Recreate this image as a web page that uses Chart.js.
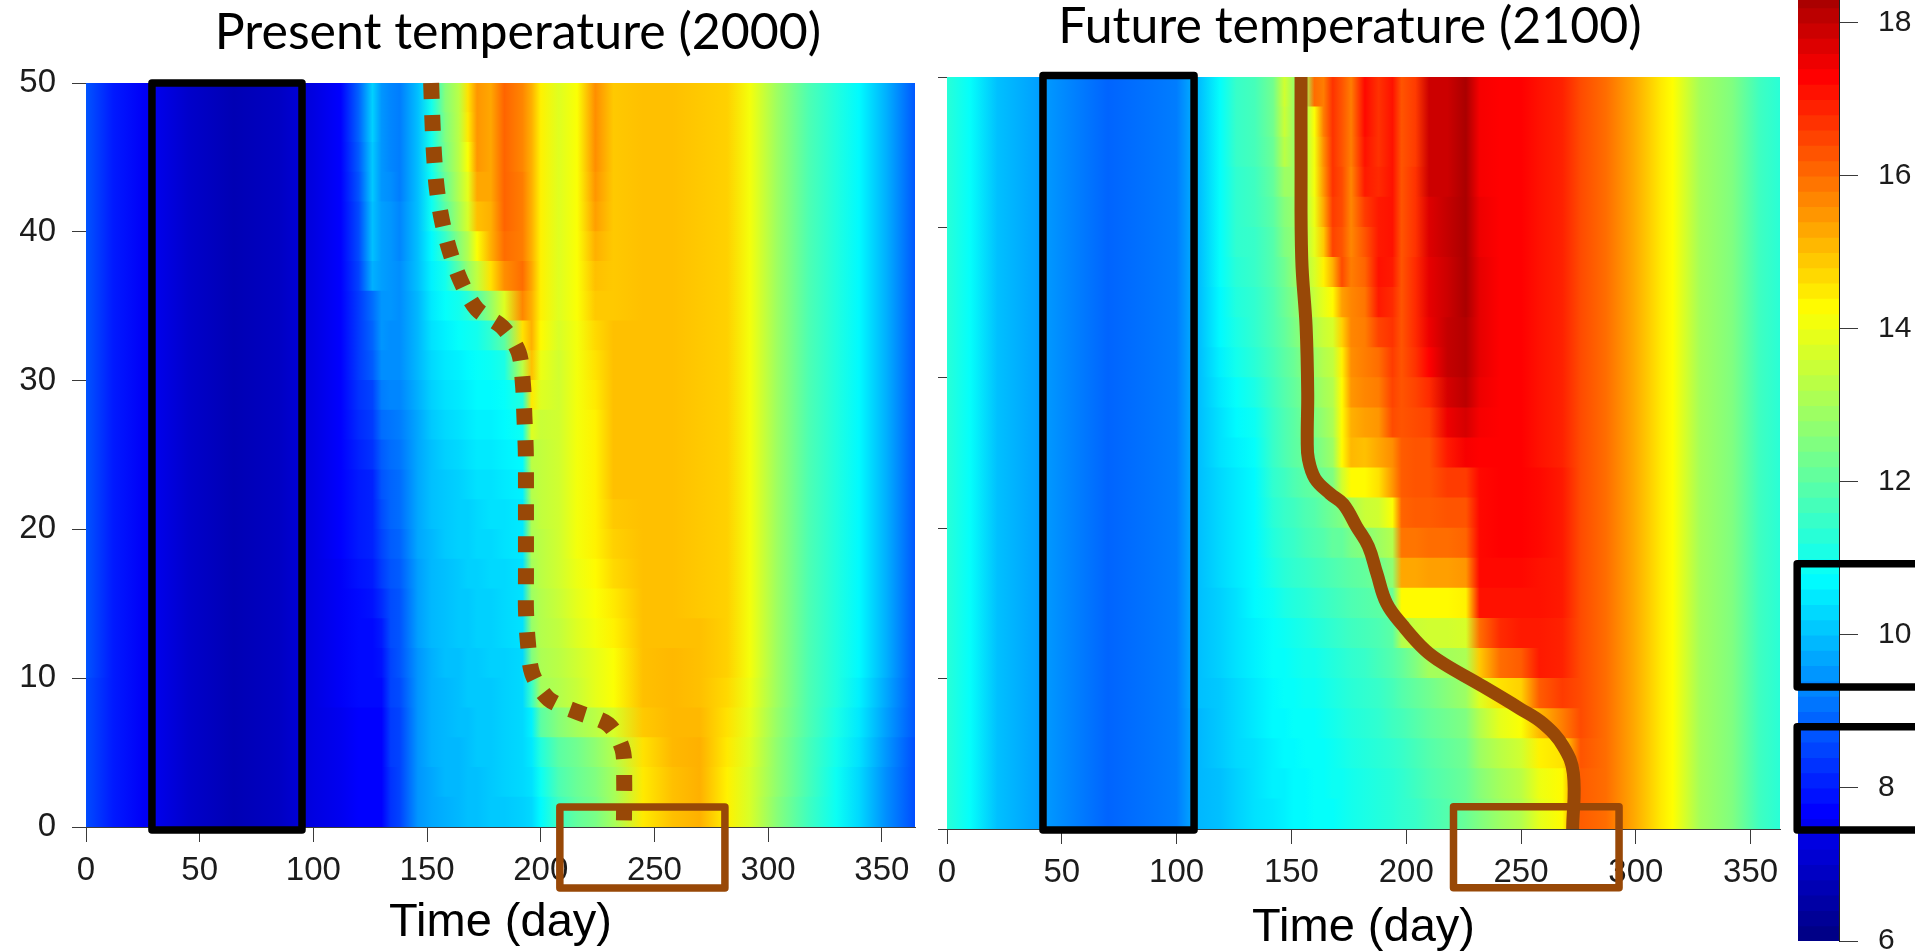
<!DOCTYPE html>
<html>
<head>
<meta charset="utf-8">
<title>Present and future temperature</title>
<script src="https://cdn.jsdelivr.net/npm/chart.js@4/dist/chart.umd.min.js"></script>
<style>
  html, body { margin: 0; padding: 0; background: #fff; overflow: hidden; }
  canvas { position: absolute; top: 0; }
</style>
</head>
<body>
<canvas id="presentChart" width="1036" height="952" style="left:0"></canvas>
<canvas id="futureChart" width="900" height="952" style="left:900px"></canvas>
<canvas id="scaleChart" width="135" height="1072" style="left:1780px;top:-60px"></canvas>
<script>
const presentTitle = "Present temperature (2000)";
const futureTitle = "Future temperature (2100)";
const xAxisTitle = "Time (day)";

// depth of each row of cells, top to bottom
const depths = [49, 47, 45, 43, 41, 39, 37, 35, 33, 31, 29, 27, 25, 23, 21, 19, 17, 15, 13, 11, 9, 7, 5, 3, 1];

const presentDays = [0, 12, 25, 45, 65, 85, 100, 112, 120, 126, 130, 134, 138, 146, 152, 158, 164, 168, 172, 178, 184, 192, 196, 200, 208, 216, 224, 232, 245, 258, 270, 282, 292, 304, 318, 330, 340, 352, 365];
const presentTemps = [
  [8.7,8.0,7.6,7.0,6.7,6.9,7.3,7.7,8.9,10.2,9.5,9.3,9.2,10.0,11.0,12.6,13.3,14.6,15.5,15.3,16.1,15.7,15.2,14.4,13.8,14.2,15.6,14.9,15.0,15.0,14.9,14.8,14.1,12.9,11.8,11.2,10.7,9.8,8.7],
  [8.7,8.0,7.6,7.0,6.7,6.9,7.3,7.7,8.9,10.2,9.5,9.3,9.2,10.0,11.0,12.5,13.3,14.5,15.5,15.3,16.1,15.7,15.2,14.4,13.8,14.2,15.6,14.9,15.0,15.0,14.9,14.8,14.1,12.9,11.8,11.2,10.7,9.8,8.7],
  [8.7,8.0,7.6,7.0,6.7,6.9,7.3,7.7,8.8,10.1,9.5,9.3,9.2,10.0,11.0,12.4,13.3,14.2,15.5,15.3,16.1,15.7,15.2,14.4,13.8,14.2,15.6,14.9,15.0,15.0,14.9,14.8,14.1,12.9,11.8,11.2,10.7,9.8,8.7],
  [8.7,8.0,7.6,7.0,6.7,6.9,7.3,7.7,8.7,10.1,9.5,9.4,9.2,10.0,10.9,12.2,13.2,13.9,15.3,15.3,16.1,15.8,15.2,14.4,13.8,14.2,15.5,14.9,15.0,15.0,14.9,14.8,14.1,12.9,11.8,11.2,10.7,9.8,8.7],
  [8.7,8.0,7.6,7.0,6.7,6.9,7.3,7.7,8.6,10.0,9.6,9.5,9.3,10.0,10.9,12.0,13.0,13.7,15.0,15.2,16.1,15.8,15.2,14.4,13.8,14.2,15.4,14.9,15.0,15.0,14.9,14.8,14.1,12.9,11.8,11.2,10.7,9.8,8.7],
  [8.7,8.0,7.6,7.0,6.7,6.9,7.3,7.7,8.6,10.0,9.6,9.5,9.3,10.0,10.7,11.5,12.6,13.2,14.2,15.2,16.0,15.8,15.2,14.4,13.8,14.2,15.2,14.9,15.0,15.0,14.9,14.8,14.1,12.9,11.8,11.2,10.7,9.8,8.7],
  [8.7,8.0,7.6,7.0,6.7,6.9,7.3,7.7,8.5,9.8,9.6,9.5,9.4,10.0,10.6,11.0,12.0,12.8,13.4,14.6,15.6,16.0,15.3,14.4,13.8,14.2,15.0,14.9,15.0,15.0,14.9,14.8,14.1,12.9,11.8,11.2,10.7,9.8,8.7],
  [8.7,8.0,7.6,7.0,6.7,6.9,7.3,7.7,8.4,9.0,9.5,9.5,9.4,9.9,10.5,10.8,11.0,11.3,11.9,12.8,13.8,15.7,15.2,14.4,13.8,14.2,14.9,14.9,15.0,15.0,14.9,14.8,14.1,12.9,11.8,11.2,10.7,9.8,8.7],
  [8.7,8.0,7.6,7.0,6.7,6.9,7.3,7.7,8.4,8.9,9.5,9.4,9.4,9.9,10.4,10.6,10.8,10.9,11.0,11.4,12.0,14.6,15.2,14.3,13.7,14.1,14.7,15.0,15.0,15.0,14.9,14.8,14.1,12.9,11.8,11.2,10.7,9.8,8.7],
  [8.7,8.0,7.6,7.0,6.7,6.9,7.3,7.7,8.4,8.8,9.4,9.4,9.4,9.9,10.3,10.5,10.6,10.7,10.8,10.9,11.1,13.3,15.0,14.0,13.6,14.1,14.6,15.0,15.0,15.0,14.9,14.8,14.1,12.9,11.8,11.2,10.7,9.8,8.7],
  [8.7,8.0,7.6,7.0,6.7,6.9,7.3,7.7,8.3,8.5,9.2,9.3,9.3,9.8,10.2,10.4,10.5,10.6,10.7,10.7,10.8,11.2,14.5,13.8,13.6,14.1,14.5,15.0,15.0,15.0,14.9,14.8,14.1,12.9,11.8,11.2,10.7,9.8,8.7],
  [8.7,8.0,7.6,7.0,6.7,6.9,7.3,7.7,8.2,8.4,9.0,9.1,9.2,9.7,10.1,10.3,10.4,10.5,10.6,10.6,10.7,10.9,13.8,13.5,13.6,14.1,14.4,15.0,15.0,15.0,14.9,14.8,14.1,12.9,11.8,11.2,10.7,9.8,8.7],
  [8.7,8.0,7.6,7.0,6.7,6.9,7.3,7.7,8.1,8.3,8.8,9.0,9.1,9.7,10.0,10.2,10.3,10.4,10.5,10.5,10.6,10.7,13.3,13.4,13.6,14.1,14.4,15.0,15.0,15.0,14.9,14.8,14.1,12.9,11.8,11.2,10.7,9.8,8.7],
  [8.7,8.0,7.6,7.0,6.7,6.9,7.3,7.7,8.0,8.1,8.7,8.9,9.0,9.7,10.0,10.1,10.2,10.3,10.4,10.4,10.5,10.6,13.2,13.4,13.6,14.1,14.4,15.0,15.0,15.0,14.9,14.8,14.1,12.9,11.8,11.2,10.7,9.8,8.7],
  [8.7,8.0,7.6,7.0,6.7,6.9,7.3,7.7,8.0,8.1,8.6,8.9,9.0,9.7,10.0,10.1,10.2,10.2,10.3,10.4,10.4,10.5,13.1,13.4,13.6,14.1,14.4,14.9,15.0,15.0,14.9,14.8,14.1,12.9,11.8,11.2,10.7,9.8,8.7],
  [8.7,8.0,7.6,7.0,6.7,6.9,7.3,7.7,8.0,8.1,8.5,8.8,8.9,9.7,9.9,10.1,10.2,10.2,10.3,10.3,10.4,10.5,13.1,13.3,13.6,14.1,14.4,14.8,15.0,15.0,14.9,14.8,14.1,12.9,11.8,11.2,10.7,9.8,8.7],
  [8.7,8.0,7.6,7.0,6.7,6.9,7.3,7.6,7.9,8.0,8.4,8.7,8.8,9.6,9.9,10.0,10.1,10.2,10.2,10.3,10.3,10.4,13.0,13.3,13.6,14.0,14.3,14.7,15.0,15.0,14.9,14.8,14.1,12.9,11.8,11.2,10.7,9.8,8.7],
  [8.7,8.0,7.6,7.0,6.7,6.9,7.3,7.6,7.8,7.9,8.2,8.6,8.7,9.6,9.9,10.0,10.1,10.1,10.2,10.2,10.3,10.4,12.9,13.2,13.5,13.9,14.2,14.5,15.0,15.0,14.9,14.8,14.1,12.9,11.8,11.2,10.7,9.8,8.7],
  [8.7,8.0,7.6,7.0,6.7,6.9,7.3,7.6,7.8,7.8,8.0,8.6,8.7,9.6,9.9,10.0,10.1,10.1,10.2,10.2,10.3,10.4,12.8,13.2,13.4,13.8,14.1,14.4,15.0,15.0,15.0,14.8,14.1,12.9,11.8,11.2,10.7,9.8,8.7],
  [8.7,8.0,7.6,7.0,6.7,6.9,7.3,7.6,7.8,7.8,7.9,8.5,8.7,9.5,9.8,10.0,10.0,10.1,10.1,10.2,10.2,10.3,12.5,13.1,13.3,13.6,13.9,14.2,15.0,15.1,15.0,14.8,14.1,12.9,11.8,11.2,10.7,9.8,8.7],
  [8.6,8.0,7.6,7.0,6.7,6.9,7.3,7.6,7.8,7.8,7.8,8.5,8.6,9.5,9.8,9.9,10.0,10.1,10.1,10.1,10.2,10.3,11.5,13.0,13.2,13.5,13.9,14.2,15.0,15.1,15.0,14.7,14.0,12.9,11.8,11.2,10.6,9.7,8.7],
  [8.6,8.0,7.6,7.0,6.7,6.9,7.3,7.5,7.7,7.7,7.7,8.4,8.5,9.5,9.8,9.9,10.0,10.0,10.1,10.1,10.2,10.3,10.6,12.0,12.6,13.0,13.3,13.7,14.9,15.1,15.1,14.6,13.9,12.8,11.8,11.1,10.5,9.6,8.7],
  [8.6,8.0,7.6,7.0,6.7,6.9,7.3,7.5,7.7,7.7,7.7,8.4,8.5,9.5,9.8,9.9,9.9,10.0,10.1,10.1,10.2,10.3,10.5,11.2,12.0,12.3,12.7,13.2,14.6,15.1,15.2,14.5,13.8,12.7,11.7,11.0,10.4,9.5,8.6],
  [8.6,8.0,7.6,7.0,6.7,6.9,7.3,7.5,7.7,7.7,7.7,8.3,8.5,9.5,9.7,9.9,9.9,10.0,10.0,10.1,10.2,10.3,10.4,10.9,11.8,12.2,12.5,13.0,14.5,15.0,15.2,14.4,13.7,12.7,11.7,10.9,10.3,9.4,8.6],
  [8.6,8.0,7.6,7.0,6.7,6.9,7.3,7.5,7.7,7.7,7.7,8.3,8.5,9.5,9.7,9.8,9.9,10.0,10.0,10.1,10.1,10.2,10.3,10.7,11.6,12.1,12.4,13.0,14.5,15.0,15.2,14.4,13.7,12.6,11.6,10.9,10.3,9.4,8.6]
];

const futureDays = [0, 10, 22, 40, 70, 100, 110, 119, 126, 134, 142, 147, 151, 156, 160, 164, 168, 172, 176, 182, 188, 194, 198, 204, 210, 218, 226, 232, 241, 250, 258, 268, 276, 287, 299, 311, 316, 328, 342, 354, 363];
const futureTemps = [
  [11.3,10.8,10.0,9.6,8.9,9.2,10.0,10.8,11.5,11.7,12.3,13.6,12.9,13.0,16.0,15.8,16.7,16.3,15.8,17.2,16.7,17.1,16.3,16.6,17.9,17.9,18.3,17.4,17.3,17.3,17.1,16.9,16.4,16.0,15.3,14.5,14.25,13.0,12.5,11.6,11.3],
  [11.3,10.8,10.0,9.6,8.9,9.2,10.0,10.8,11.5,11.7,12.3,13.5,12.9,13.1,14.2,15.8,16.7,16.3,15.8,17.2,16.7,17.1,16.3,16.6,17.9,17.9,18.3,17.4,17.3,17.3,17.1,16.9,16.4,16.0,15.3,14.5,14.25,13.0,12.5,11.6,11.3],
  [11.3,10.8,10.0,9.6,8.9,9.2,10.0,10.8,11.5,11.7,12.2,13.3,12.9,13.2,14.1,15.6,16.7,16.3,15.8,17.1,16.7,17.1,16.3,16.6,17.9,17.9,18.3,17.4,17.3,17.3,17.1,16.9,16.4,16.0,15.3,14.5,14.25,13.0,12.5,11.6,11.3],
  [11.3,10.8,10.0,9.6,8.9,9.2,10.0,10.8,11.4,11.6,12.1,12.9,12.9,13.2,14.1,15.5,16.7,16.4,15.7,17.0,16.8,17.1,16.3,16.7,17.9,17.9,18.3,17.4,17.3,17.3,17.1,16.9,16.4,16.0,15.3,14.5,14.25,13.0,12.5,11.6,11.3],
  [11.3,10.8,10.0,9.6,8.9,9.2,10.0,10.8,11.4,11.6,12.0,12.6,12.8,13.2,14.0,15.3,16.6,16.4,15.7,16.6,17.0,17.1,16.3,16.7,17.7,18.0,18.3,17.5,17.3,17.3,17.1,16.9,16.4,16.0,15.3,14.5,14.25,13.0,12.5,11.6,11.3],
  [11.3,10.8,10.0,9.6,8.9,9.2,10.0,10.8,11.4,11.5,11.9,12.5,12.7,13.2,13.9,14.9,16.5,16.3,15.7,16.3,17.0,17.1,16.3,16.7,17.7,18.0,18.3,17.5,17.3,17.3,17.1,16.9,16.4,16.0,15.3,14.5,14.25,13.0,12.5,11.6,11.3],
  [11.3,10.8,10.0,9.6,8.9,9.2,10.0,10.8,11.3,11.5,11.9,12.3,12.7,13.2,13.7,14.4,15.2,16.4,15.8,16.1,17.1,17.0,16.3,16.8,17.6,17.9,18.3,17.6,17.3,17.3,17.1,16.9,16.4,16.0,15.3,14.5,14.25,13.0,12.5,11.6,11.3],
  [11.3,10.8,10.0,9.6,8.9,9.2,10.0,10.7,11.2,11.4,11.8,12.2,12.5,13.0,13.5,13.9,14.3,15.4,15.7,15.9,17.0,16.8,16.3,16.8,17.6,17.9,18.3,17.6,17.3,17.3,17.1,16.9,16.4,16.0,15.3,14.5,14.25,13.0,12.5,11.6,11.3],
  [11.3,10.8,10.0,9.6,8.9,9.2,10.0,10.7,11.1,11.4,11.8,12.1,12.4,12.8,13.2,13.5,13.7,14.8,15.7,15.8,16.5,16.7,16.3,16.8,17.5,18.0,18.2,17.6,17.3,17.3,17.1,16.9,16.4,16.0,15.3,14.5,14.25,13.0,12.5,11.6,11.3],
  [11.3,10.8,10.0,9.6,8.9,9.2,10.0,10.6,11.0,11.3,11.7,12.0,12.2,12.6,12.9,13.2,13.4,14.4,15.6,15.8,16.0,16.6,16.3,16.7,17.3,18.0,18.2,17.6,17.3,17.3,17.1,16.9,16.4,16.0,15.3,14.5,14.25,13.0,12.5,11.6,11.3],
  [11.3,10.8,10.0,9.6,8.9,9.2,10.0,10.5,10.8,11.1,11.6,11.9,12.1,12.4,12.7,13.0,13.2,14.3,15.5,15.7,15.8,16.5,16.3,16.5,16.8,17.8,18.1,17.5,17.3,17.3,17.1,16.9,16.4,16.0,15.3,14.5,14.25,13.0,12.5,11.6,11.3],
  [11.3,10.8,10.0,9.6,8.9,9.2,10.0,10.4,10.7,10.9,11.5,11.8,12.0,12.3,12.5,12.8,13.1,14.3,15.2,15.4,15.5,16.4,16.3,16.4,16.5,17.5,17.8,17.4,17.3,17.3,17.1,16.9,16.4,16.0,15.3,14.5,14.25,13.0,12.5,11.6,11.3],
  [11.3,10.8,10.0,9.6,8.9,9.2,10.0,10.4,10.6,10.8,11.5,11.8,12.0,12.2,12.3,12.6,12.9,14.3,15.1,15.0,15.3,15.6,16.2,16.3,16.3,17.0,17.4,17.3,17.3,17.3,17.1,16.9,16.4,16.0,15.3,14.5,14.25,13.0,12.5,11.6,11.3],
  [11.3,10.8,10.0,9.6,8.9,9.2,10.0,10.3,10.5,10.7,11.4,11.6,11.8,12.0,12.1,12.3,12.5,13.6,14.3,14.3,14.6,15.5,16.2,16.3,16.3,16.6,16.6,17.2,17.3,17.3,17.2,17.0,16.4,16.0,15.3,14.5,14.25,13.0,12.5,11.6,11.3],
  [11.3,10.8,10.0,9.6,8.9,9.2,10.0,10.3,10.5,10.7,11.3,11.5,11.6,11.8,11.9,12.1,12.3,12.5,13.1,13.5,13.6,14.2,16.1,16.2,16.2,16.3,16.3,17.2,17.3,17.3,17.2,17.0,16.4,16.0,15.3,14.5,14.25,13.0,12.5,11.6,11.3],
  [11.3,10.8,10.0,9.6,8.9,9.2,10.0,10.3,10.5,10.7,11.2,11.4,11.5,11.7,11.8,11.9,12.1,12.1,12.4,12.6,12.9,13.2,15.9,15.9,16.0,16.0,16.1,17.2,17.3,17.3,17.2,17.0,16.4,16.0,15.3,14.5,14.25,13.0,12.5,11.6,11.3],
  [11.3,10.8,10.0,9.6,8.9,9.2,10.0,10.3,10.5,10.7,11.1,11.3,11.4,11.5,11.6,11.7,11.8,11.9,12.0,12.1,12.3,12.7,15.3,15.3,15.4,15.4,15.5,17.2,17.2,17.2,17.1,17.0,16.4,16.0,15.3,14.5,14.25,13.0,12.5,11.6,11.3],
  [11.3,10.8,10.0,9.6,8.9,9.2,10.0,10.2,10.4,10.7,10.9,11.1,11.2,11.3,11.4,11.5,11.6,11.7,11.8,11.9,12.0,12.2,14.3,14.3,14.3,14.3,14.4,17.1,17.1,17.1,17.1,17.0,16.4,16.0,15.3,14.5,14.25,13.0,12.5,11.6,11.3],
  [11.3,10.8,10.0,9.6,8.9,9.2,10.0,10.2,10.4,10.6,10.8,10.9,11.0,11.1,11.2,11.3,11.4,11.5,11.6,11.7,11.8,12.0,13.2,13.5,13.6,13.6,13.7,16.0,16.8,17.0,17.0,16.9,16.4,16.0,15.3,14.5,14.25,13.0,12.5,11.6,11.3],
  [11.3,10.8,10.0,9.6,8.9,9.2,10.0,10.2,10.4,10.6,10.8,10.8,10.9,11.0,11.0,11.1,11.2,11.3,11.4,11.5,11.7,11.9,12.1,12.5,13.0,13.0,13.1,14.9,16.0,16.2,17.0,16.9,16.4,16.0,15.3,14.5,14.25,13.0,12.5,11.6,11.3],
  [11.3,10.8,10.0,9.6,8.9,9.2,10.0,10.1,10.3,10.5,10.7,10.8,10.8,10.9,10.9,11.0,11.1,11.2,11.3,11.4,11.5,11.7,11.9,12.1,12.3,12.6,12.9,13.8,14.6,14.8,16.2,16.6,16.4,16.0,15.3,14.5,14.25,13.0,12.5,11.6,11.3],
  [11.3,10.8,10.0,9.6,8.9,9.2,9.9,10.1,10.3,10.5,10.7,10.7,10.8,10.8,10.8,10.9,11.0,11.1,11.2,11.3,11.4,11.6,11.7,11.9,12.1,12.3,12.5,13.2,13.9,14.2,15.1,15.8,16.4,16.0,15.3,14.5,14.25,13.0,12.5,11.6,11.3],
  [11.3,10.8,10.0,9.6,8.9,9.2,9.9,10.1,10.3,10.4,10.6,10.7,10.7,10.8,10.8,10.8,10.9,11.0,11.1,11.2,11.3,11.4,11.5,11.7,11.9,12.1,12.3,12.9,13.3,13.6,14.4,14.6,16.3,16.0,15.3,14.5,14.25,13.0,12.5,11.6,11.3],
  [11.3,10.8,10.0,9.6,8.9,9.2,9.9,10.0,10.2,10.4,10.6,10.6,10.7,10.7,10.8,10.8,10.9,10.9,11.0,11.1,11.2,11.3,11.4,11.6,11.8,12.0,12.2,12.6,13.0,13.3,14.0,14.3,16.2,16.0,15.3,14.5,14.25,13.0,12.5,11.6,11.3],
  [11.3,10.8,10.0,9.6,8.9,9.2,9.9,10.0,10.2,10.4,10.5,10.6,10.7,10.7,10.8,10.8,10.8,10.9,11.0,11.1,11.2,11.3,11.4,11.5,11.7,11.9,12.2,12.5,12.9,13.2,13.9,14.3,16.2,16.0,15.3,14.5,14.25,13.0,12.5,11.6,11.3]
];

const yTicks = [0, 10, 20, 30, 40, 50];
const scaleLevels = [6.1,6.3,6.5,6.7,6.9,7.1,7.3,7.5,7.7,7.9,8.1,8.3,8.5,8.7,8.9,9.1,9.3,9.5,9.7,9.9,10.1,10.3,10.5,10.7,10.9,11.1,11.3,11.5,11.7,11.9,12.1,12.3,12.5,12.7,12.9,13.1,13.3,13.5,13.7,13.9,14.1,14.3,14.5,14.7,14.9,15.1,15.3,15.5,15.7,15.9,16.1,16.3,16.5,16.7,16.9,17.1,17.3,17.5,17.7,17.9,18.1,18.3];

// brown curves: day, depth
const presentCurveDays = [151.8, 152.4, 153.1, 154.3, 156.5, 160, 164.8, 171.9, 183.1, 190.3, 192.2, 192.8, 193.4, 193.5, 193.5, 193.5, 193.5, 193.5, 194.3, 196.3, 203.5, 216.5, 229.7, 236, 236.7, 236.6];
const presentCurveDepths = [50, 47.3, 45.1, 42.9, 40.8, 38.7, 36.7, 34.8, 33.6, 31.9, 29.7, 27.6, 25.4, 23.2, 21.1, 19, 16.8, 14.6, 12.5, 10.3, 8.6, 7.7, 6.9, 5.2, 3.1, 0.45];
const futureCurveDays = [154.2, 154.2, 154.5, 156.4, 157.1, 156.9, 157.4, 160.3, 166.8, 172.6, 178.4, 183.5, 187.2, 191.5, 198.7, 208.2, 216.2, 232.1, 249.6, 259.7, 268.4, 272.8, 272.5];
const futureCurveDepths = [50, 44.5, 37.9, 33.4, 29, 25.9, 24.6, 23.3, 22.3, 21.6, 20.1, 18.8, 17, 15, 13.5, 11.9, 11, 9.6, 8, 7, 5.5, 3.7, 0];

// boxes: first day, last day, upper depth, lower depth
const presentBlackBox = [29, 95, 50, -0.2];
const presentBrownBox = [208.4, 281, 1.34, -4.1];
const futureBlackBox = [41.8, 107.6, 50.1, -0.07];
const futureBrownBox = [220.6, 292.7, 1.48, -3.9];
// colour scale boxes: upper and lower temperature
const scaleBoxUpper = [10.93, 9.32];
const scaleBoxLower = [8.8, 7.45];

const brown = "#984807";
const tickFont = { family: "'Liberation Sans', Arial, sans-serif", size: 33 };
const textColor = "#1c1c1c";
const axisColor = "#3a3a3a";

const jetTemps = [6, 7.7, 10.75, 12.5, 14.25, 17.3, 18.8];
const jetColors = [[0,0,128], [0,0,255], [0,255,255], [128,255,128], [255,255,0], [255,0,0], [128,0,0]];

function jet(t) {
  let i = 0;
  while (i < jetTemps.length - 2 && t > jetTemps[i + 1]) i++;
  const f = Math.max(0, Math.min(1, (t - jetTemps[i]) / (jetTemps[i + 1] - jetTemps[i])));
  const c = jetColors[i].map((v, k) => Math.round(v + (jetColors[i + 1][k] - v) * f));
  return "rgb(" + c.join(",") + ")";
}

function boxPoints(b) {
  return [
    { x: b[0], y: b[2] }, { x: b[1], y: b[2] }, { x: b[1], y: b[3] },
    { x: b[0], y: b[3] }, { x: b[0], y: b[2] }
  ];
}

function boxDataset(b, color) {
  return {
    type: "line", indexAxis: "x", data: boxPoints(b), order: 1, clip: false,
    borderColor: color, borderWidth: 7.5, borderJoinStyle: "round", borderCapStyle: "round",
    pointRadius: 0, tension: 0
  };
}

function curvePoints(days, values) {
  return days.map((d, i) => ({ x: d, y: values[i] }));
}

// one horizontal bar per depth, painted with a gradient through that row's temperatures
function rowGradient(chart, days, temps) {
  const x = chart.scales.x;
  const x0 = x.getPixelForValue(days[0]);
  const x1 = x.getPixelForValue(days[days.length - 1]);
  const g = chart.ctx.createLinearGradient(x0, 0, x1, 0);
  days.forEach((d, i) => {
    g.addColorStop((x.getPixelForValue(d) - x0) / (x1 - x0), jet(temps[i]));
  });
  return g;
}

function makePanel(id, cfg) {
  const last = cfg.days[cfg.days.length - 1];
  new Chart(document.getElementById(id), {
    type: "bar",
    data: {
      datasets: [
        {
          data: depths.map(d => ({ x: [0, last], y: d })),
          order: 3,
          categoryPercentage: 1,
          barPercentage: 1,
          inflateAmount: 0.5,
          borderWidth: 0,
          backgroundColor: ctx => {
            if (!ctx.chart.chartArea || ctx.dataIndex === undefined) return "transparent";
            return rowGradient(ctx.chart, cfg.days, cfg.temps[ctx.dataIndex]);
          }
        },
        boxDataset(cfg.blackBox, "#000"),
        boxDataset(cfg.brownBox, brown),
        Object.assign({
          type: "line", indexAxis: "x", order: 2, clip: false,
          data: curvePoints(cfg.curveDays, cfg.curveDepths),
          borderColor: brown, pointRadius: 0
        }, cfg.curveStyle)
      ]
    },
    options: {
      indexAxis: "y",
      responsive: false,
      animation: false,
      events: [],
      layout: { autoPadding: false, padding: 0 },
      plugins: {
        legend: { display: false },
        tooltip: { enabled: false },
        title: {
          display: true,
          text: cfg.title,
          color: "#000",
          font: { family: "Lato, 'Open Sans', sans-serif", size: 50, weight: "normal", lineHeight: 1 },
          padding: cfg.titlePadding
        }
      },
      scales: {
        x: {
          type: "linear", position: "bottom", min: 0, max: cfg.xMax, offset: false,
          grid: { drawOnChartArea: false, offset: false, tickLength: 15, tickColor: axisColor },
          border: { color: axisColor },
          ticks: { stepSize: 50, includeBounds: false, autoSkip: false, maxRotation: 0, font: tickFont, color: textColor, padding: 9 },
          title: {
            display: true, text: xAxisTitle, color: "#000",
            font: { family: "'Liberation Sans', Arial, sans-serif", size: 47, lineHeight: 1 },
            padding: cfg.axisTitlePadding
          },
          afterFit: s => { s.height = 952 - cfg.areaBottom; }
        },
        y: {
          type: "linear", position: "left", min: 0, max: 50, offset: false,
          grid: { drawOnChartArea: false, offset: false, tickLength: cfg.yTickLength, tickColor: axisColor },
          border: { color: axisColor },
          ticks: {
            display: cfg.showYLabels, stepSize: 10, font: tickFont, color: textColor, padding: 16,
            callback: v => yTicks.includes(v) ? String(v) : ""
          },
          afterFit: s => { s.width = cfg.leftWidth; }
        },
        spacer: {
          type: "linear", position: "right", display: true,
          grid: { display: false }, border: { display: false }, ticks: { display: false },
          afterFit: s => { s.width = cfg.rightWidth; }
        }
      }
    }
  });
}

makePanel("presentChart", {
  title: presentTitle, days: presentDays, temps: presentTemps,
  curveDays: presentCurveDays, curveDepths: presentCurveDepths,
  curveStyle: { borderWidth: 16, borderDash: [16, 16], borderCapStyle: "butt", tension: 0.3 },
  blackBox: presentBlackBox, brownBox: presentBrownBox,
  xMax: 364.6, leftWidth: 86, rightWidth: 121, areaBottom: 827, yTickLength: 14, showYLabels: true,
  titlePadding: { top: 8, bottom: 25 }, axisTitlePadding: { top: 0, bottom: 5.5 }
});

makePanel("futureChart", {
  title: futureTitle, days: futureDays, temps: futureTemps,
  curveDays: futureCurveDays, curveDepths: futureCurveDepths,
  curveStyle: { borderWidth: 13, borderCapStyle: "butt", borderJoinStyle: "round", tension: 0.4 },
  blackBox: futureBlackBox, brownBox: futureBrownBox,
  xMax: 362.8, leftWidth: 47, rightWidth: 20, areaBottom: 829, yTickLength: 9, showYLabels: false,
  titlePadding: { top: 1.5, bottom: 25.5 }, axisTitlePadding: { top: 0, bottom: 0.5 }
});

// colour scale with its two black boxes running off to the right
new Chart(document.getElementById("scaleChart"), {
  type: "bar",
  data: {
    datasets: [
      {
        data: scaleLevels.map(t => ({ x: [0, 1], y: t })),
        order: 3, categoryPercentage: 1, barPercentage: 1, inflateAmount: 0.5, borderWidth: 0,
        backgroundColor: scaleLevels.map(jet)
      },
      boxDataset([-0.02, 3, scaleBoxUpper[0], scaleBoxUpper[1]], "#000"),
      boxDataset([-0.02, 3, scaleBoxLower[0], scaleBoxLower[1]], "#000")
    ]
  },
  options: {
    indexAxis: "y",
    responsive: false,
    animation: false,
    events: [],
    layout: { autoPadding: false, padding: { left: 18, right: 0, top: 60, bottom: 71 } },
    plugins: { legend: { display: false }, tooltip: { enabled: false } },
    scales: {
      x: { type: "linear", min: 0, max: 1, display: false, offset: false },
      y: {
        type: "linear", position: "right", min: 6, max: 18.3, offset: false,
        grid: { drawOnChartArea: false, offset: false, tickLength: 19, tickColor: axisColor },
        border: { color: "#222" },
        ticks: { stepSize: 2, includeBounds: false, font: { family: tickFont.family, size: 30 }, color: textColor, padding: 20 },
        afterFit: s => { s.width = 76; }
      }
    }
  }
});
</script>
</body>
</html>
